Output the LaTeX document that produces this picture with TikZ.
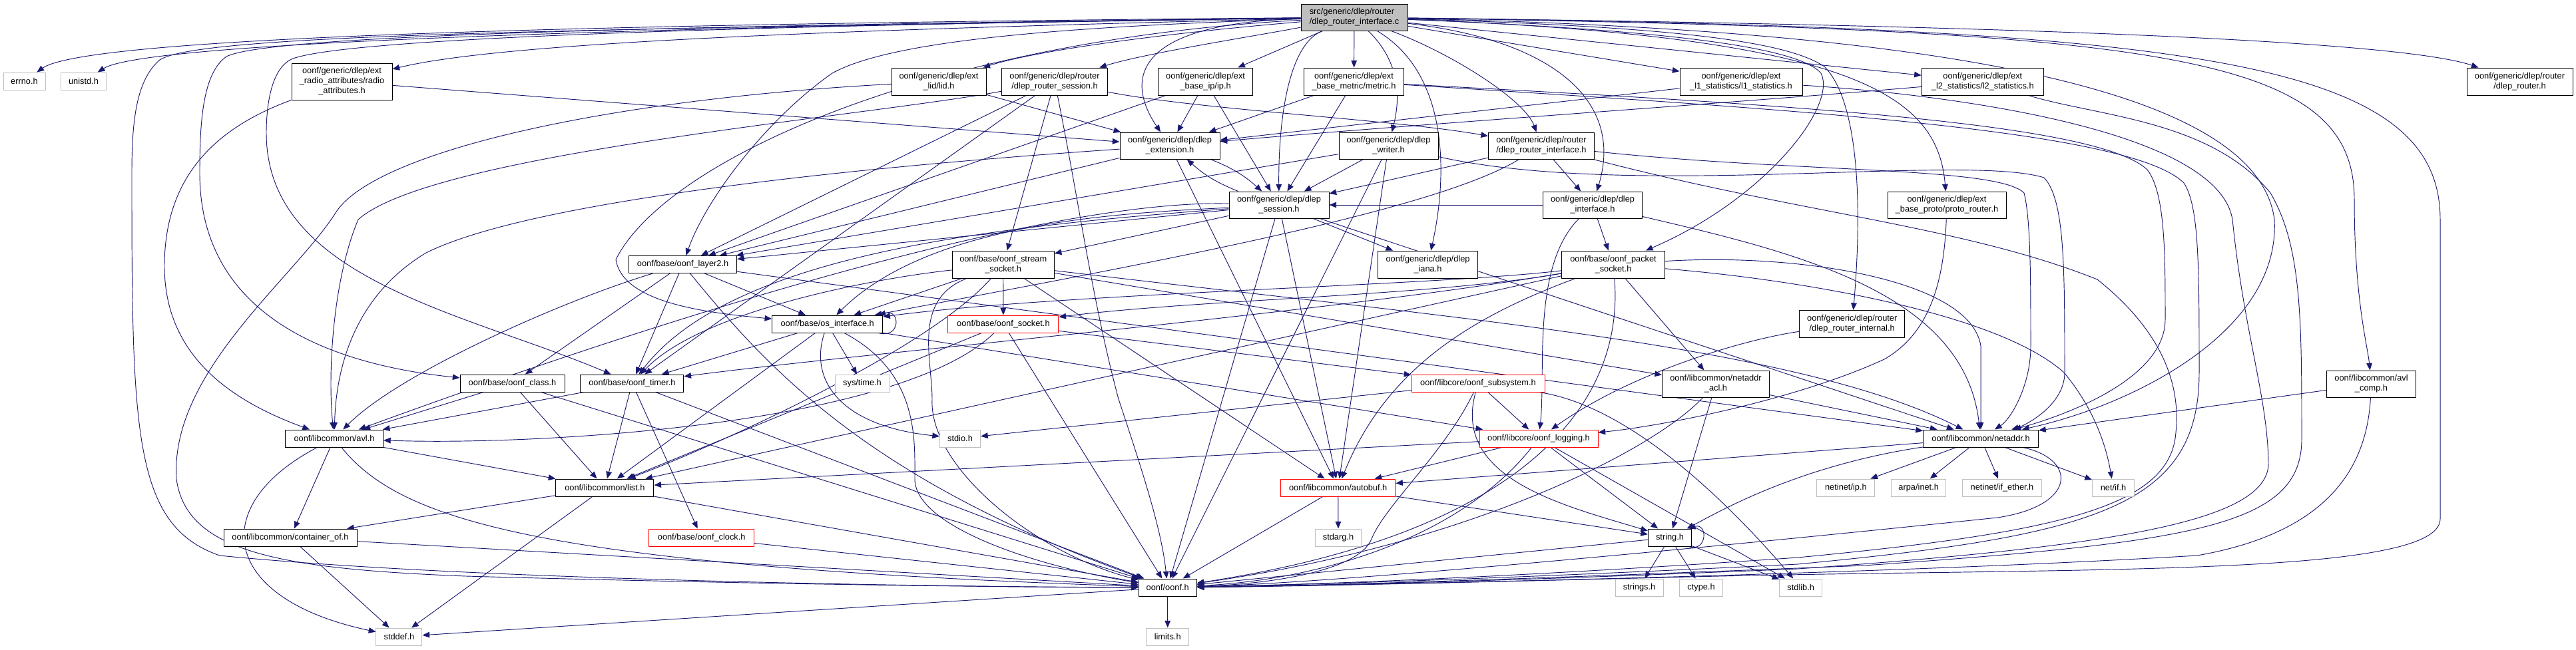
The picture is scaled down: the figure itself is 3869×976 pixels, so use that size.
\documentclass[tikz,border=0pt]{standalone}
\usepackage{fontspec}
\setmainfont{Liberation Sans}
\usetikzlibrary{arrows.meta}
\definecolor{edgeblue}{HTML}{191970}
\definecolor{lgray}{HTML}{BFBFBF}
\pgfdeclarelayer{bg}
\pgfsetlayers{bg,main}
\tikzset{
  box/.style={draw=black, line width=0.75pt, fill=white, align=center, inner sep=1pt, font=\fontsize{9.6}{11.25}\selectfont},
  sysbox/.style={box, draw=lgray},
  redbox/.style={box, draw=red},
  rootbox/.style={box, fill=lgray},
  sz/.style 2 args={minimum width=#1*0.75pt, minimum height=#2*0.75pt},
  e/.style={draw=edgeblue, line width=0.7pt, -{Triangle[length=8pt,width=6.5pt]}},
}
\begin{document}
\begin{tikzpicture}[x=0.75pt,y=-0.75pt]
\useasboundingbox (0,0) rectangle (3869,976);
% ---------------- nodes ----------------
\node[rootbox, sz={160}{40}, align=left] (root) at (2034,26) {src/generic/dlep/router\\/dlep\_router\_interface.c};
\node[sysbox, sz={63}{26}] (errno) at (36.5,122) {errno.h};
\node[sysbox, sz={68}{26}] (unistd) at (125.5,122) {unistd.h};
\node[box, sz={151}{55}] (radio) at (513.5,122.5) {oonf/generic/dlep/ext\\\_radio\_attributes/radio\\\_attributes.h};
\node[box, sz={142}{41}] (lid) at (1410,122.5) {oonf/generic/dlep/ext\\\_lid/lid.h};
\node[box, sz={159}{41}] (rsess) at (1584,122.5) {oonf/generic/dlep/router\\/dlep\_router\_session.h};
\node[box, sz={142}{41}] (ip) at (1810.6,122.5) {oonf/generic/dlep/ext\\\_base\_ip/ip.h};
\node[box, sz={150}{41}] (metric) at (2033.5,122.5) {oonf/generic/dlep/ext\\\_base\_metric/metric.h};
\node[box, sz={184}{41}] (l1) at (2615,122.5) {oonf/generic/dlep/ext\\\_l1\_statistics/l1\_statistics.h};
\node[box, sz={183}{41}] (l2) at (2977.8,122.5) {oonf/generic/dlep/ext\\\_l2\_statistics/l2\_statistics.h};
\node[box, sz={159}{41}] (drouter) at (3784.5,122.5) {oonf/generic/dlep/router\\/dlep\_router.h};
\node[box, sz={150}{40}] (ext) at (1757,219) {oonf/generic/dlep/dlep\\\_extension.h};
\node[box, sz={149}{40}] (writer) at (2085.5,219) {oonf/generic/dlep/dlep\\\_writer.h};
\node[box, sz={159}{40}] (rif) at (2315,219) {oonf/generic/dlep/router\\/dlep\_router\_interface.h};
\node[box, sz={150}{40}] (sess) at (1921,308) {oonf/generic/dlep/dlep\\\_session.h};
\node[box, sz={149}{40}] (dif) at (2392,308) {oonf/generic/dlep/dlep\\\_interface.h};
\node[box, sz={178}{40}] (proto) at (2924,308) {oonf/generic/dlep/ext\\\_base\_proto/proto\_router.h};
\node[box, sz={162}{26}] (layer2) at (1025.6,397.5) {oonf/base/oonf\_layer2.h};
\node[box, sz={153}{41}] (sstream) at (1506.7,397.5) {oonf/base/oonf\_stream\\\_socket.h};
\node[box, sz={150}{41}] (iana) at (2144.5,397.5) {oonf/generic/dlep/dlep\\\_iana.h};
\node[box, sz={155}{41}] (psock) at (2423,397.5) {oonf/base/oonf\_packet\\\_socket.h};
\node[box, sz={166}{26}] (osif) at (1242.7,487) {oonf/base/os\_interface.h};
\node[redbox, sz={166}{26}] (sock) at (1506.9,487) {oonf/base/oonf\_socket.h};
\node[box, sz={158}{41}] (rint) at (2781.7,487) {oonf/generic/dlep/router\\/dlep\_router\_internal.h};
\node[box, sz={157}{26}] (cls) at (769.5,576) {oonf/base/oonf\_class.h};
\node[box, sz={155}{26}] (timer) at (949.4,576) {oonf/base/oonf\_timer.h};
\node[sysbox, sz={82}{26}] (systime) at (1295,576) {sys/time.h};
\node[redbox, sz={200}{26}] (subsys) at (2220,576) {oonf/libcore/oonf\_subsystem.h};
\node[box, sz={161}{40}] (acl) at (2577,577) {oonf/libcommon/netaddr\\\_acl.h};
\node[box, sz={134}{40}] (avlcomp) at (3561.5,577) {oonf/libcommon/avl\\\_comp.h};
\node[box, sz={147}{26}] (avl) at (502,659) {oonf/libcommon/avl.h};
\node[sysbox, sz={61}{26}] (stdio) at (1442,659) {stdio.h};
\node[redbox, sz={178}{26}] (logging) at (2311,659) {oonf/libcore/oonf\_logging.h};
\node[box, sz={173}{26}] (netaddr) at (2975,659) {oonf/libcommon/netaddr.h};
\node[box, sz={147}{26}] (list) at (908.4,733) {oonf/libcommon/list.h};
\node[redbox, sz={172}{26}] (autobuf) at (2009.7,733) {oonf/libcommon/autobuf.h};
\node[sysbox, sz={87}{26}] (netip) at (2772.4,733) {netinet/ip.h};
\node[sysbox, sz={82}{26}] (arpa) at (2881.7,733) {arpa/inet.h};
\node[sysbox, sz={119}{26}] (ifether) at (3007,733) {netinet/if\_ether.h};
\node[sysbox, sz={63}{26}] (netif) at (3174,733) {net/if.h};
\node[box, sz={200}{26}] (contof) at (436,808) {oonf/libcommon/container\_of.h};
\node[redbox, sz={158}{26}] (clock) at (1053.7,808) {oonf/base/oonf\_clock.h};
\node[sysbox, sz={69}{26}] (stdarg) at (2010,808) {stdarg.h};
\node[box, sz={65}{26}] (string) at (2508,808) {string.h};
\node[box, sz={87}{26}] (oonfh) at (1753.7,883) {oonf/oonf.h};
\node[sysbox, sz={72}{26}] (strings) at (2462,883) {strings.h};
\node[sysbox, sz={65}{26}] (ctype) at (2555,883) {ctype.h};
\node[sysbox, sz={64}{26}] (stdlib) at (2704.7,883) {stdlib.h};
\node[sysbox, sz={69}{26}] (stddef) at (599.4,957) {stddef.h};
\node[sysbox, sz={64}{26}] (limits) at (1753.7,957) {limits.h};
\begin{pgfonlayer}{bg}
% ---------------- edges: root ----------------
\draw[e] (root) .. controls (900,36) and (130,55) .. (errno);
\draw[e] (root) .. controls (1000,40) and (220,62) .. (unistd);
\draw[e] (root) .. controls (1300,44) and (760,62) .. (radio);
\draw[e] (root) .. controls (900,44) and (300,50) .. (240,90) .. controls (205,120) and (198,180) .. (198,260) .. controls (198,650) and (200,790) .. (330,835) .. controls (700,872) and (1400,882) .. (oonfh);
\draw[e] (root) .. controls (900,40) and (400,55) .. (340,85) .. controls (305,110) and (300,180) .. (300,260) .. controls (300,460) and (470,545) .. (cls);
\draw[e] (root) .. controls (1000,40) and (520,60) .. (440,88) .. controls (410,100) and (400,150) .. (400,200) .. controls (400,420) and (700,470) .. (timer);
\draw[e] (root) .. controls (1600,40) and (1340,60) .. (1250,110) .. controls (1150,180) and (1060,300) .. (layer2);
\draw[e] (root) .. controls (1400,60) and (1000,240) .. (925,390) .. controls (935,455) and (1060,470) .. (osif);
\draw[e] (root) .. controls (1750,50) and (1560,75) .. (lid);
\draw[e] (root) .. controls (1880,55) and (1720,80) .. (rsess);
\draw[e] (root) -- (ip);
\draw[e] (root) .. controls (1700,35) and (1690,120) .. (ext);
\draw[e] (root) .. controls (1930,70) and (1920,200) .. (sess);
\draw[e] (root) -- (metric);
\draw[e] (root) .. controls (2110,100) and (2100,160) .. (writer);
\draw[e] (root) .. controls (2180,80) and (2290,150) .. (rif);
\draw[e] (root) .. controls (2330,60) and (2440,150) .. (dif);
\draw[e] (root) .. controls (2175,110) and (2175,260) .. (iana);
\draw[e] (root) .. controls (2500,45) and (2700,70) .. (2735,110) .. controls (2760,160) and (2650,300) .. (psock);
\draw[e] (root) .. controls (2500,40) and (2680,60) .. (2740,100) .. controls (2790,150) and (2798,300) .. (rint);
\draw[e] (root) -- (l1);
\draw[e] (root) -- (l2);
\draw[e] (root) .. controls (3000,38) and (3600,60) .. (drouter);
\draw[e] (root) .. controls (2780,55) and (2910,140) .. (proto);
\draw[e] (root) .. controls (3250,45) and (3536,80) .. (3536,300) .. controls (3536,450) and (3556,520) .. (avlcomp);
\draw[e] (root) .. controls (3300,42) and (3665,90) .. (3665,330) -- (3665,780) .. controls (3665,870) and (3100,852) .. (2500,868) .. controls (2100,878) and (1900,882) .. (oonfh);
\draw[e] (root) .. controls (2900,45) and (3390,130) .. (3416,330) .. controls (3425,500) and (3200,610) .. (netaddr);
% ---------------- second row ----------------
\draw[e] (radio) -- (ext);
\draw[e] (radio) .. controls (330,190) and (247,260) .. (247,400) .. controls (247,530) and (340,600) .. (avl);
\draw[e] (lid) -- (ext);
\draw[e] (lid) .. controls (900,150) and (560,230) .. (504,320) .. controls (440,420) and (255,560) .. (265,720) .. controls (280,830) and (420,855) .. (700,866) .. controls (1200,880) and (1600,883) .. (oonfh);
\draw[e] (rsess) .. controls (1300,175) and (650,230) .. (538,330) .. controls (500,420) and (492,560) .. (avl);
\draw[e] (rsess) -- (layer2);
\draw[e] (rsess) -- (timer);
\draw[e] (rsess) -- (sstream);
\draw[e] (rsess) .. controls (1620,300) and (1640,450) .. (1680,600) .. controls (1720,720) and (1745,800) .. (oonfh);
\draw[e] (rsess) .. controls (1800,165) and (2100,180) .. (rif);
\draw[e] (ip) -- (ext);
\draw[e] (ip) -- (sess);
\draw[e] (ip) -- (layer2);
\draw[e] (metric) -- (ext);
\draw[e] (metric) -- (sess);
\draw[e] (metric) .. controls (2700,158) and (3150,185) .. (3225,255) .. controls (3252,290) and (3252,380) .. (3252,480) .. controls (3252,570) and (3100,625) .. (netaddr);
\draw[e] (metric) .. controls (2700,165) and (3200,195) .. (3280,275) .. controls (3303,310) and (3303,400) .. (3303,560) .. controls (3303,760) and (3150,805) .. (2700,848) .. controls (2300,868) and (2000,878) .. (oonfh);
\draw[e] (l1) -- (ext);
\draw[e] (l1) .. controls (2900,140) and (3330,190) .. (3353,330) .. controls (3370,500) and (3407,600) .. (3407,700) .. controls (3400,780) and (3200,820) .. (2700,855) .. controls (2300,872) and (2000,880) .. (oonfh);
\draw[e] (l2) .. controls (2600,155) and (2150,185) .. (ext);
\draw[e] (l2) .. controls (3150,175) and (3320,180) .. (3410,290) .. controls (3457,370) and (3457,480) .. (3457,660) .. controls (3457,790) and (3300,815) .. (2800,850) .. controls (2300,870) and (2000,880) .. (oonfh);
% ---------------- dlep core ----------------
\draw[e] (ext) to[bend left=10] (sess);
\draw[e] (sess) to[bend left=10] (ext);
\draw[e] (ext) -- (autobuf);
\draw[e] (ext) -- (layer2);
\draw[e] (ext) .. controls (1300,250) and (800,300) .. (640,380) .. controls (540,440) and (505,540) .. (avl);
\draw[e] (sess) -- (iana);
\draw[e] (sess) -- (layer2);
\draw[e] (sess) -- (sstream);
\draw[e] (sess) .. controls (1700,320) and (1400,330) .. (osif);
\draw[e] (sess) .. controls (1500,340) and (1100,380) .. (timer);
\draw[e] (sess) .. controls (1600,300) and (1100,440) .. (avl);
\draw[e] (sess) -- (autobuf);
\draw[e] (sess) -- (netaddr);
\draw[e] (sess) -- (oonfh);
\draw[e] (writer) -- (sess);
\draw[e] (writer) -- (layer2);
\draw[e] (writer) -- (autobuf);
\draw[e] (writer) -- (oonfh);
\draw[e] (writer) .. controls (2450,300) and (2950,230) .. (3070,267) .. controls (3101,300) and (3101,400) .. (3101,560) .. controls (3101,610) and (3040,640) .. (netaddr);
\draw[e] (rif) -- (sess);
\draw[e] (rif) -- (dif);
\draw[e] (rif) .. controls (2150,320) and (1700,400) .. (osif);
\draw[e] (rif) .. controls (2700,260) and (3000,250) .. (3040,290) .. controls (3050,330) and (3050,420) .. (3050,520) .. controls (3050,580) and (3020,630) .. (netaddr);
\draw[e] (rif) .. controls (2700,320) and (2950,340) .. (3150,420) .. controls (3250,500) and (3275,580) .. (3268,650) .. controls (3260,760) and (3100,800) .. (2700,838) .. controls (2300,866) and (2000,878) .. (oonfh);
\draw[e] (dif) -- (sess);
\draw[e] (dif) -- (psock);
\draw[e] (dif) .. controls (2300,400) and (2322,560) .. (logging);
\draw[e] (dif) .. controls (2700,380) and (2950,440) .. (netaddr);
\draw[e] (proto) .. controls (2920,420) and (2900,500) .. (2830,540) .. controls (2700,600) and (2500,640) .. (logging);
\draw[e] (rint) .. controls (2620,510) and (2450,560) .. (logging);
% ---------------- base ----------------
\draw[e] (layer2) -- (osif);
\draw[e] (layer2) -- (cls);
\draw[e] (layer2) -- (timer);
\draw[e] (layer2) .. controls (850,450) and (600,560) .. (avl);
\draw[e] (layer2) -- (netaddr);
\draw[e] (layer2) .. controls (1150,550) and (1300,720) .. (oonfh);
\draw[e] (sstream) -- (sock);
\draw[e] (sstream) -- (osif);
\draw[e] (sstream) .. controls (1300,420) and (1050,470) .. (timer);
\draw[e] (sstream) .. controls (1400,520) and (1100,660) .. (list);
\draw[e] (sstream) -- (autobuf);
\draw[e] (sstream) -- (acl);
\draw[e] (sstream) .. controls (2200,480) and (2700,520) .. (netaddr);
\draw[e] (sstream) .. controls (1370,450) and (1400,540) .. (1400,600) .. controls (1395,700) and (1550,830) .. (oonfh);
\draw[e] (psock) .. controls (2150,430) and (1600,440) .. (osif);
\draw[e] (psock) .. controls (2150,445) and (1800,450) .. (sock);
\draw[e] (psock) .. controls (2000,470) and (1300,530) .. (timer);
\draw[e] (psock) -- (list);
\draw[e] (psock) .. controls (2200,480) and (2080,560) .. (autobuf);
\draw[e] (psock) -- (acl);
\draw[e] (psock) .. controls (2700,380) and (2960,420) .. (2975,520) -- (netaddr);
\draw[e] (psock) .. controls (2700,420) and (3000,470) .. (3100,560) .. controls (3150,620) and (3165,680) .. (netif);
\draw[e] (psock) .. controls (2440,600) and (2300,800) .. (oonfh);
\draw[e] (osif) -- (timer);
\draw[e] (osif) -- (list);
\draw[e] (osif) .. controls (1215,570) and (1260,640) .. (stdio);
\draw[e] (osif) -- (systime);
\draw[e] (osif) -- (logging);
\draw[e] (osif) .. controls (1380,560) and (1374,660) .. (1374,720) .. controls (1374,790) and (1550,850) .. (oonfh);
\draw[e] ([xshift=-5pt]osif.south east) .. controls ([xshift=20pt,yshift=-7pt]osif.south east) and ([xshift=20pt,yshift=7pt]osif.north east) .. ([xshift=-5pt]osif.north east);
\draw[e] (sock) -- (list);
\draw[e] (sock) .. controls (1350,640) and (800,670) .. (avl);
\draw[e] (sock) -- (oonfh);
\draw[e] (sock) -- (subsys);
\draw[e] (cls) -- (avl);
\draw[e] (cls) -- (list);
\draw[e] (cls) -- (oonfh);
\draw[e] (timer) -- (avl);
\draw[e] (timer) -- (list);
\draw[e] (timer) -- (clock);
\draw[e] (timer) -- (oonfh);
\draw[e] (subsys) -- (logging);
\draw[e] (subsys) -- (stdio);
\draw[e] (subsys) .. controls (2180,720) and (2350,760) .. (string);
\draw[e] (subsys) .. controls (2450,610) and (2600,760) .. (stdlib);
\draw[e] (subsys) .. controls (2170,680) and (2080,760) .. (2060,810) .. controls (2040,860) and (1900,878) .. (oonfh);
\draw[e] (acl) -- (netaddr);
\draw[e] (acl) -- (string);
\draw[e] (acl) .. controls (2480,680) and (2200,820) .. (oonfh);
\draw[e] (avlcomp) -- (netaddr);
\draw[e] (avlcomp) .. controls (3555,700) and (3500,800) .. (3300,835) .. controls (2800,865) and (2000,880) .. (oonfh);
% ---------------- libcommon ----------------
\draw[e] (avl) -- (contof);
\draw[e] (avl) -- (list);
\draw[e] (avl) .. controls (310,760) and (330,900) .. (stddef);
\draw[e] (avl) .. controls (600,780) and (800,850) .. (oonfh);
\draw[e] (logging) -- (list);
\draw[e] (logging) -- (autobuf);
\draw[e] (logging) -- (string);
\draw[e] (logging) -- (stdlib);
\draw[e] (logging) .. controls (2200,800) and (2000,870) .. (oonfh);
\draw[e] (netaddr) -- (autobuf);
\draw[e] (netaddr) -- (netip);
\draw[e] (netaddr) -- (arpa);
\draw[e] (netaddr) -- (ifether);
\draw[e] (netaddr) -- (netif);
\draw[e] (netaddr) .. controls (2700,700) and (2580,770) .. (string);
\draw[e] (netaddr) .. controls (3120,690) and (3120,760) .. (3000,778) .. controls (2500,830) and (2000,876) .. (oonfh);
\draw[e] (list) -- (contof);
\draw[e] (list) -- (stddef);
\draw[e] (list) -- (oonfh);
\draw[e] (autobuf) -- (stdarg);
\draw[e] (autobuf) -- (string);
\draw[e] (autobuf) -- (oonfh);
\draw[e] (contof) -- (stddef);
\draw[e] (contof) -- (oonfh);
\draw[e] (clock) -- (oonfh);
\draw[e] (string) -- (strings);
\draw[e] (string) -- (ctype);
\draw[e] (string) -- (stdlib);
\draw[e] (string) -- (oonfh);
\draw[e] ([xshift=-4pt]string.south east) .. controls ([xshift=18pt,yshift=-7pt]string.south east) and ([xshift=18pt,yshift=7pt]string.north east) .. ([xshift=-4pt]string.north east);
\draw[e] (oonfh) -- (stddef);
\draw[e] (oonfh) -- (limits);
\end{pgfonlayer}
\end{tikzpicture}
\end{document}
